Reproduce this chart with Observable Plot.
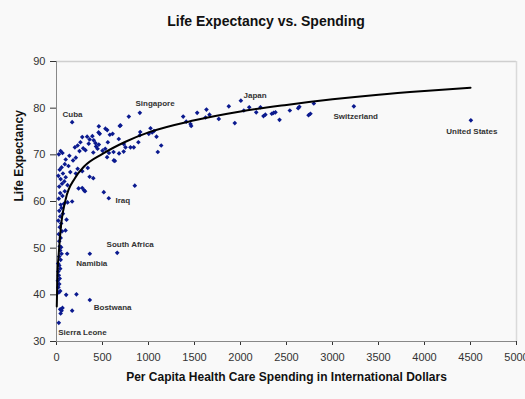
<!DOCTYPE html>
<html><head><meta charset="utf-8">
<script src="https://cdn.jsdelivr.net/npm/d3@7"></script>
<script src="https://cdn.jsdelivr.net/npm/@observablehq/plot@0.6"></script>
<style>
body{margin:0;background:#f9f9f9;font-family:"Liberation Sans",Arial,sans-serif;}
#title{position:relative;height:40px;width:525px;}
#title span{position:absolute;left:266px;top:13px;transform:translateX(-50%);font-weight:bold;font-size:14px;color:#111;white-space:nowrap;line-height:17px;}
</style></head><body>
<div id="title"><span>Life Expectancy vs. Spending</span></div>
<div id="chart"></div>
<script>
const title = "Life Expectancy vs. Spending";
const xLabel = "Per Capita Health Care Spending in International Dollars";
const yLabel = "Life Expectancy";
const xTicks = [0,500,1000,1500,2000,2500,3000,3500,4000,4500,5000];
const yTicks = [30,40,50,60,70,80,90];

// Per capita health spending (international $) and life expectancy (years)
const spending = [
  25,45,55,40,65,170,25,40,105,217,362,
  20,30,15,35,25,20,40,30,18,45,30,55,40,50,35,116,362,660,
  30,45,25,60,98,35,50,20,109,40,70,30,55,45,80,120,170,25,65,40,90,300,310,514,568,851,
  30,60,85,120,45,20,100,70,150,35,210,55,130,90,240,280,
  280,340,360,400,230,
  25,45,65,100,140,180,210,
  200,230,260,290,250,
  315,350,400,430,460,
  500,530,570,620,680,730,
  623,634,550,
  280,333,457,470,580,610,677,732,804,750,840,
  890,910,906,1003,1040,1060,
  170,
  460,551,532,696,688,
  786,906,
  405,424,446,558,360,390,
  1087,1138,1101,1022,
  1377,1410,1464,1457,1529,1630,1620,1663,1764,1873,1938,2004,2036,2095,2171,2217,2250,2270,2340,2360,2380,2424,2536,2627,2640,2740,2760,2797,3232,4504
];
const lifeExp = [
  34.0,36.0,36.6,36.9,37.2,36.6,40.5,40.8,40.0,40.1,38.9,
  41.6,42.3,43.0,43.5,44.2,45.0,45.6,46.3,46.7,47.5,48.2,48.8,49.5,50.2,50.4,48.8,48.8,49.0,
  51.5,52.2,53.0,53.6,53.8,54.5,55.3,55.9,56.1,56.8,57.4,58.0,58.6,59.3,59.5,59.8,60.0,60.6,61.2,61.8,62.2,62.4,62.2,62.0,60.7,63.4,
  63.2,63.8,64.3,63.5,64.8,65.5,65.2,66.0,66.3,66.8,66.0,67.3,67.6,68.0,62.8,62.9,
  66.5,67.2,65.3,65.0,67.0,
  70.1,70.8,70.4,69.0,69.8,68.8,69.4,
  71.6,72.0,72.7,71.4,70.8,
  71.0,72.4,70.5,71.8,72.2,
  70.9,71.3,70.4,70.6,70.3,70.7,
  68.8,68.7,69.5,
  73.8,73.9,74.8,74.5,74.3,74.5,73.4,72.3,71.6,71.6,71.6,
  72.7,74.9,74.2,74.5,74.8,75.1,
  77.0,
  76.1,75.3,75.6,76.3,76.2,
  78.2,79.0,
  73.1,72.5,71.3,72.7,73.3,74.0,
  73.9,72.0,70.6,75.7,
  78.2,77.1,76.2,76.6,79.0,79.7,78.0,78.6,77.7,80.4,76.8,81.6,79.5,80.2,79.1,80.2,78.3,78.6,78.8,79.0,79.1,77.5,79.5,80.0,80.3,78.5,78.8,81.0,80.4,77.4
];

// Logarithmic trendline
const trendX = [3,10,25,50,100,200,300,500,750,1000,1500,2000,2500,3000,3500,4000,4500];
const trendY = [37.5,44,49,55,60.5,65,67.5,70.2,72.8,74.8,77.4,79.3,80.7,81.9,82.9,83.7,84.4];

// Country annotations (anchor in data units)
const labelNames = ["Cuba","Singapore","Japan","Switzerland","United States","Iraq","South Africa","Namibia","Bostwana","Sierra Leone"];
const labelX = [65,859,2033,3011,4236,641,544,214,405,18];
const labelY = [78.6,81.0,82.7,78.2,75.0,60.2,50.8,46.8,37.4,31.9];

const points = spending.map((s, i) => ({spending: s, life: lifeExp[i]}));
const trend = trendX.map((x, i) => ({x, y: trendY[i]}));
const labels = labelNames.map((name, i) => ({name, x: labelX[i], y: labelY[i]}));

const chart = Plot.plot({
  width: 525,
  height: 359,
  marginTop: 21,
  marginBottom: 58,
  marginLeft: 56,
  marginRight: 9,
  style: {background: "#f9f9f9", fontFamily: "'Liberation Sans', Arial, sans-serif", fontSize: "11px", color: "#333"},
  x: {domain: [0, 5000], ticks: xTicks, tickSize: 4, tickPadding: 8, tickFormat: d => String(d), label: null},
  y: {domain: [30, 90], ticks: yTicks, tickSize: 6, tickPadding: 5, label: null},
  marks: [
    Plot.ruleY([90], {stroke: "#cfcfcf", strokeWidth: 1.5}),
    Plot.ruleX([5000], {stroke: "#dadada", strokeWidth: 1.5}),
    Plot.ruleX([0], {stroke: "#888"}),
    Plot.ruleY([30], {stroke: "#888"}),
    Plot.dot(points, {x: "spending", y: "life", symbol: "diamond2", r: 2.1, fill: "#0b1a8f", stroke: "none"}),
    Plot.line(trend, {x: "x", y: "y", stroke: "#000", strokeWidth: 2, curve: "monotone-x"}),
    Plot.text(labels, {x: "x", y: "y", text: "name", textAnchor: "start", fontSize: 8, fontWeight: "bold", fill: "#333"}),
    Plot.text([xLabel], {frameAnchor: "bottom", dy: 39, fontSize: 12, fontWeight: "bold", fill: "#111"}),
    Plot.text([yLabel], {frameAnchor: "left", dx: -37, rotate: -90, fontSize: 12, fontWeight: "bold", fill: "#111"})
  ]
});
document.getElementById("chart").appendChild(chart);
</script>
</body></html>
